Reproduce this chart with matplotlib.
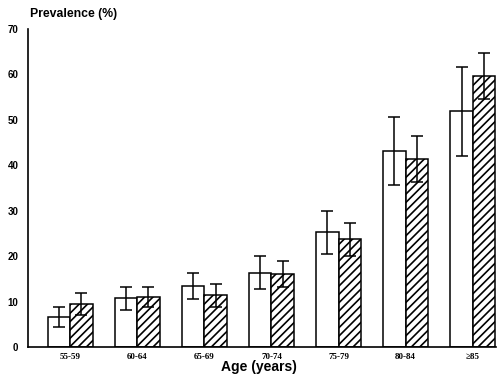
import matplotlib
matplotlib.use("Agg")
import matplotlib.pyplot as plt
import numpy as np

plt.rcParams['hatch.linewidth'] = 1.2

categories = ["55-59", "60-64", "65-69", "70-74", "75-79", "80-84", "\u226585"]
open_vals = [6.6, 10.8, 13.5, 16.4, 25.3, 43.2, 51.9]
open_hi = [8.9, 13.2, 16.3, 20.0, 30.0, 50.7, 61.7]
open_lo = [4.4, 8.2, 10.6, 12.8, 20.4, 35.7, 42.1]
hatch_vals = [9.5, 11.0, 11.5, 16.0, 23.7, 41.3, 59.7]
hatch_hi = [11.9, 13.3, 13.9, 18.9, 27.4, 46.4, 64.8]
hatch_lo = [7.0, 8.8, 8.9, 13.1, 20.0, 36.3, 54.5]
yticks = [0, 10, 20, 30, 40, 50, 60, 70]

fig = plt.figure(figsize=(5.0, 3.82), dpi=100)
ax = fig.add_axes([0.056, 0.0916, 0.935, 0.8325])

x = np.arange(len(categories))
w = 0.333
ax.bar(x - w/2, open_vals, width=w, color="white", edgecolor="black", linewidth=1.1, zorder=2)
ax.bar(x + w/2, hatch_vals, width=w, color="white", edgecolor="black", linewidth=1.1,
       hatch="////", zorder=2)

o = np.array(open_vals); oh = np.array(open_hi); ol = np.array(open_lo)
h = np.array(hatch_vals); hh = np.array(hatch_hi); hl = np.array(hatch_lo)
ax.errorbar(x - w/2, o, yerr=[o - ol, oh - o], fmt="none", ecolor="black",
            elinewidth=1.1, capsize=4, capthick=1.1, zorder=3)
ax.errorbar(x + w/2, h, yerr=[h - hl, hh - h], fmt="none", ecolor="black",
            elinewidth=1.1, capsize=4, capthick=1.1, zorder=3)

ax.set_xlim(-0.63, 6.34)
ax.set_ylim(0, 70)
ax.set_yticks(yticks)
ax.set_yticklabels([str(t) for t in yticks], fontsize=7, fontweight="bold",
                   family="Liberation Sans")
ax.set_xticks(x)
ax.set_xticklabels(categories, fontsize=6.5, fontweight="bold", family="Liberation Serif")
ax.tick_params(axis="both", length=0, pad=7)
ax.tick_params(axis="x", pad=4)
for s in ["top", "right"]:
    ax.spines[s].set_visible(False)
ax.spines["left"].set_linewidth(1.2)
ax.spines["bottom"].set_linewidth(1.2)

fig.text(0.06, 0.963, "Prevalence (%)", fontsize=8.8, fontweight="bold",
         family="Liberation Sans", va="center", ha="left")
fig.text(0.518, 0.04, "Age (years)", fontsize=10, fontweight="bold",
         family="Liberation Sans", va="center", ha="center")

fig.savefig("out.png", dpi=100, facecolor="white")
